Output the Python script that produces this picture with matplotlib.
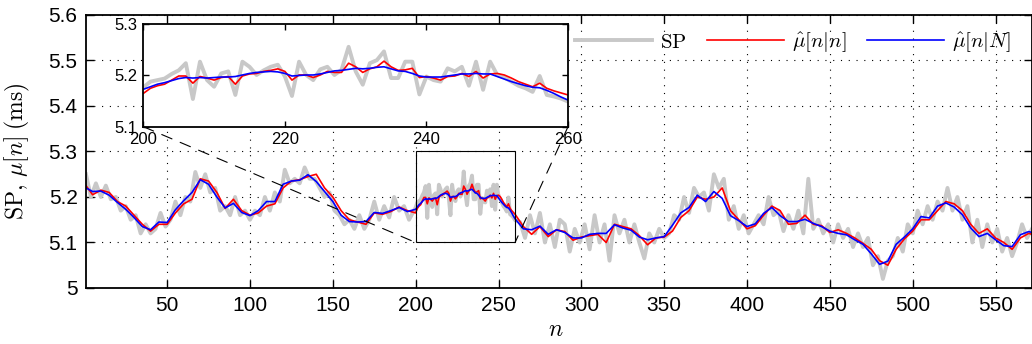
import numpy as np
import matplotlib
matplotlib.use('Agg')
import matplotlib.pyplot as plt
from matplotlib.patches import Rectangle, ConnectionPatch
from matplotlib.ticker import FuncFormatter

plt.rcParams['font.family'] = 'Liberation Sans'
plt.rcParams['mathtext.fontset'] = 'cm'

# SP samples (ms): coarse outside the zoom window, every sample inside it
n_sp_left = np.arange(1, 200, 3)
sp_left = [5.25, 5.2, 5.23, 5.2, 5.225, 5.195, 5.2, 5.17, 5.18, 5.15,
           5.16, 5.12, 5.14, 5.12, 5.13, 5.165, 5.135, 5.15, 5.19, 5.16,
           5.2, 5.19, 5.255, 5.22, 5.25, 5.21, 5.22, 5.17, 5.18, 5.16,
           5.2, 5.16, 5.17, 5.15, 5.17, 5.16, 5.2, 5.17, 5.21, 5.19,
           5.26, 5.23, 5.24, 5.23, 5.265, 5.24, 5.24, 5.22, 5.2, 5.21,
           5.17, 5.16, 5.14, 5.15, 5.13, 5.16, 5.13, 5.15, 5.19, 5.15,
           5.18, 5.155, 5.2, 5.17, 5.18, 5.15, 5.17]
n_zoom = np.arange(200, 261)
sp_zoom = [5.177, 5.188, 5.191, 5.194, 5.203, 5.210, 5.224, 5.154, 5.227, 5.191,
           5.178, 5.204, 5.208, 5.162, 5.227, 5.217, 5.201, 5.210, 5.217, 5.221,
           5.198, 5.160, 5.227, 5.201, 5.191, 5.212, 5.217, 5.201, 5.211, 5.256,
           5.208, 5.182, 5.224, 5.230, 5.247, 5.195, 5.195, 5.227, 5.227, 5.163,
           5.198, 5.191, 5.188, 5.214, 5.208, 5.217, 5.180, 5.227, 5.172, 5.227,
           5.201, 5.196, 5.188, 5.180, 5.175, 5.168, 5.199, 5.162, 5.159, 5.155,
           5.149]
n_sp_right = np.arange(263, 573, 3)
sp_right = [5.145, 5.11, 5.16, 5.12, 5.165, 5.1, 5.14, 5.09, 5.15, 5.14,
            5.08, 5.13, 5.1, 5.14, 5.085, 5.16, 5.1, 5.14, 5.06, 5.16,
            5.12, 5.15, 5.1, 5.14, 5.1, 5.065, 5.12, 5.1, 5.13, 5.11,
            5.12, 5.16, 5.15, 5.2, 5.165, 5.22, 5.2, 5.21, 5.17, 5.25,
            5.22, 5.24, 5.15, 5.18, 5.13, 5.16, 5.12, 5.14, 5.16, 5.14,
            5.2, 5.16, 5.17, 5.125, 5.16, 5.13, 5.17, 5.12, 5.24, 5.13,
            5.15, 5.12, 5.14, 5.1, 5.14, 5.11, 5.13, 5.09, 5.12, 5.09,
            5.11, 5.05, 5.07, 5.02, 5.06, 5.07, 5.11, 5.08, 5.14, 5.12,
            5.17, 5.14, 5.18, 5.15, 5.19, 5.17, 5.22, 5.17, 5.2, 5.15,
            5.18, 5.1, 5.15, 5.09, 5.14, 5.1, 5.13, 5.08, 5.11, 5.07,
            5.1, 5.14, 5.11, 5.13]

# filtered (red) and smoothed (blue) estimates
n_est_left = np.r_[1, 5:200:5]
n_est_right = np.r_[265:571:5, 572]
filt_left = [5.225, 5.205, 5.215, 5.21, 5.19, 5.18, 5.16, 5.14, 5.125, 5.14,
             5.14, 5.165, 5.185, 5.195, 5.24, 5.235, 5.21, 5.175, 5.195, 5.17,
             5.16, 5.165, 5.18, 5.185, 5.22, 5.235, 5.238, 5.245, 5.25, 5.22,
             5.2, 5.17, 5.15, 5.145, 5.14, 5.165, 5.162, 5.168, 5.178, 5.17]
filt_zoom = [5.165, 5.175, 5.180, 5.183, 5.191, 5.199, 5.199, 5.185, 5.198, 5.195,
             5.191, 5.196, 5.198, 5.183, 5.199, 5.203, 5.204, 5.208, 5.210, 5.213,
             5.208, 5.191, 5.201, 5.201, 5.196, 5.201, 5.208, 5.206, 5.206, 5.224,
             5.217, 5.206, 5.213, 5.217, 5.228, 5.217, 5.210, 5.211, 5.214, 5.196,
             5.198, 5.195, 5.191, 5.198, 5.199, 5.204, 5.198, 5.208, 5.195, 5.203,
             5.204, 5.201, 5.195, 5.188, 5.183, 5.178, 5.185, 5.175, 5.170, 5.166,
             5.162]
filt_right = [5.135, 5.118, 5.135, 5.113, 5.128, 5.124, 5.105, 5.112, 5.115, 5.118,
              5.1, 5.14, 5.135, 5.13, 5.115, 5.095, 5.11, 5.112, 5.125, 5.155,
              5.17, 5.2, 5.195, 5.2, 5.22, 5.17, 5.15, 5.13, 5.137, 5.16,
              5.18, 5.17, 5.14, 5.142, 5.16, 5.14, 5.137, 5.122, 5.128, 5.12,
              5.11, 5.098, 5.085, 5.06, 5.05, 5.085, 5.108, 5.125, 5.15, 5.15,
              5.17, 5.19, 5.185, 5.17, 5.14, 5.12, 5.13, 5.11, 5.1, 5.085,
              5.11, 5.12, 5.118]
smooth_left = [5.220, 5.212, 5.213, 5.204, 5.188, 5.173, 5.155, 5.135, 5.128, 5.145,
               5.144, 5.172, 5.192, 5.210, 5.238, 5.228, 5.200, 5.176, 5.186, 5.166,
               5.159, 5.170, 5.190, 5.190, 5.228, 5.235, 5.237, 5.249, 5.234, 5.212,
               5.190, 5.160, 5.146, 5.145, 5.146, 5.166, 5.164, 5.170, 5.177, 5.168]
smooth_zoom = [5.173, 5.178, 5.183, 5.186, 5.190, 5.194, 5.196, 5.195, 5.196, 5.195,
               5.196, 5.197, 5.197, 5.198, 5.201, 5.204, 5.206, 5.207, 5.208, 5.207,
               5.204, 5.199, 5.200, 5.201, 5.201, 5.203, 5.206, 5.209, 5.210, 5.212,
               5.214, 5.213, 5.214, 5.216, 5.217, 5.213, 5.209, 5.208, 5.204, 5.199,
               5.197, 5.197, 5.197, 5.199, 5.201, 5.203, 5.203, 5.204, 5.203, 5.203,
               5.198, 5.193, 5.188, 5.184, 5.180, 5.177, 5.176, 5.171, 5.165, 5.158,
               5.152]
smooth_right = [5.130, 5.128, 5.136, 5.118, 5.128, 5.122, 5.110, 5.110, 5.118, 5.120,
                5.120, 5.139, 5.132, 5.127, 5.112, 5.106, 5.110, 5.113, 5.138, 5.165,
                5.177, 5.204, 5.190, 5.212, 5.197, 5.159, 5.148, 5.135, 5.141, 5.164,
                5.177, 5.159, 5.146, 5.146, 5.151, 5.142, 5.135, 5.125, 5.120, 5.117,
                5.106, 5.096, 5.075, 5.052, 5.059, 5.096, 5.112, 5.130, 5.157, 5.154,
                5.180, 5.187, 5.178, 5.161, 5.132, 5.113, 5.120, 5.106, 5.093, 5.091,
                5.117, 5.124, 5.122]

n_sp = np.concatenate([n_sp_left, n_zoom, n_sp_right])
sp = np.concatenate([sp_left, sp_zoom, sp_right])
n_est = np.concatenate([n_est_left, n_zoom, n_est_right])
filt = np.concatenate([filt_left, filt_zoom, filt_right])
smooth = np.concatenate([smooth_left, smooth_zoom, smooth_right])

gray, red, blue = '#c8c8c8', '#ff0000', '#0000ff'


def draw(a):
    a.plot(n_sp, sp, color=gray, lw=2.8, label=r'$\mathrm{SP}$')
    a.plot(n_est, filt, color=red, lw=1.2, label=r'$\hat{\mu}[n|n]$')
    a.plot(n_est, smooth, color=blue, lw=1.2, label=r'$\hat{\mu}[n|N]$')


fig = plt.figure(figsize=(10.32, 3.44), dpi=100)
ax = fig.add_axes([0.0833, 0.1628, 0.9167, 0.7936])
draw(ax)
ax.set_xlim(1, 572)
ax.set_ylim(5.0, 5.6)
ax.set_xticks(np.arange(50, 551, 50))
ax.set_yticks(np.arange(5.0, 5.61, 0.1))
ax.yaxis.set_major_formatter(FuncFormatter(lambda v, p: '%g' % round(v, 2)))
ax.tick_params(direction='in', top=True, right=True, length=6, width=1, labelsize=15)
ax.tick_params(axis='x', pad=6)
ax.tick_params(axis='y', pad=6)
ax.grid(True, color='k', linestyle=(0, (1, 6)), lw=0.8)
for s in ax.spines.values():
    s.set_linewidth(1.3)
ax.set_ylabel(r'$\mathrm{SP},\,\mu[n]\;(\mathrm{ms})$', fontsize=17)
ax.yaxis.set_label_coords(-0.057, 0.5)
ax.set_xlabel(r'$n$', fontsize=17)
ax.xaxis.set_label_coords(0.497, -0.115)

ax.legend(ncol=3, loc='center left', bbox_to_anchor=(0.517, 0.9), frameon=False,
          handlelength=3.7, handletextpad=0.4, columnspacing=0.95, fontsize=15,
          borderpad=0, borderaxespad=0)

# zoom window
ax.add_patch(Rectangle((200, 5.1), 60, 0.2, fill=False, ec='k', lw=0.8, zorder=5))

axins = fig.add_axes([0.1389, 0.6317, 0.4115, 0.2977])
draw(axins)
axins.set_xlim(200, 260)
axins.set_ylim(5.1, 5.3)
axins.set_xticks([200, 220, 240, 260])
axins.set_yticks([5.1, 5.2, 5.3])
axins.yaxis.set_major_formatter(FuncFormatter(lambda v, p: '%g' % round(v, 2)))
axins.tick_params(direction='in', top=True, right=True, length=4, width=1, labelsize=12, pad=4)
for s in axins.spines.values():
    s.set_linewidth(1.3)

for x0, y0 in [(200, 5.1), (260, 5.1)]:
    con = ConnectionPatch(xyA=(x0, y0), coordsA=axins.transData,
                          xyB=(x0, y0), coordsB=ax.transData,
                          color='k', lw=0.8, linestyle=(0, (10, 8)), zorder=4)
    ax.add_artist(con)

fig.savefig('out.png', dpi=100)
